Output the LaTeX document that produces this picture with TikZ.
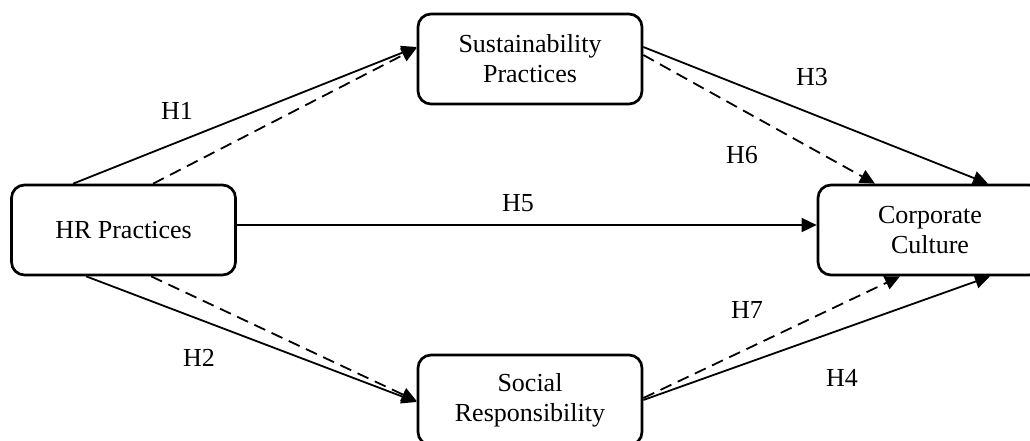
\documentclass[tikz,border=0pt]{standalone}
\usepackage{fontspec}
\setmainfont{Liberation Serif}
\usetikzlibrary{arrows.meta,calc}

\tikzset{
  construct/.style={draw, line width=2.7pt, rounded corners=13pt,
    minimum width=224pt, minimum height=90pt, align=center,
    inner sep=0pt, font=\fontsize{26}{30}\selectfont},
  hyplabel/.style={font=\fontsize{26}{30}\selectfont, inner sep=0pt},
  link/.style={line width=1.8pt, -{Triangle[length=15pt,width=14pt]}},
  mediated/.style={link, dash pattern=on 12pt off 7pt},
}

\begin{document}
\begin{tikzpicture}[x=1pt, y=-1pt]
  \useasboundingbox (0,0) rectangle (1030,441);

  % constructs
  \node[construct] (hr)   at (123.5,230) {HR Practices};
  \node[construct] (sust) at (530,59)    {Sustainability\\Practices};
  \node[construct] (soc)  at (530,400)   {Social\\Responsibility};
  \node[construct] (corp) at (930,230)   {Corporate\\Culture};

  % direct paths
  \draw[link] ($(hr.north west)+(63,0)$)  -- ($(sust.west)+(0,-12)$);
  \draw[link] ($(hr.south west)+(76,0)$)  -- ($(soc.west)+(0,2)$);
  \draw[link] ($(hr.east)+(0,-5)$)        -- ($(corp.west)+(0,-5)$);
  \draw[link] ($(sust.east)+(0,-12)$)     -- ($(corp.north)+(58,0)$);
  \draw[link] (soc.east)                  -- ($(corp.south)+(60,0)$);

  % mediated paths
  \draw[mediated] ($(hr.north west)+(143,0)$) -- ($(sust.west)+(0,-11)$);
  \draw[mediated] ($(hr.south west)+(141,0)$) -- ($(soc.west)+(0,1)$);
  \draw[mediated] ($(sust.east)+(0,-4)$)      -- ($(corp.north)+(-55,0)$);
  \draw[mediated] ($(soc.east)+(0,-2)$)       -- ($(corp.south)+(-30,0)$);

  % hypothesis labels
  \node[hyplabel] (h1) at (177,111) {H1};
  \node[hyplabel] (h2) at (199,358) {H2};
  \node[hyplabel] (h3) at (812,77)  {H3};
  \node[hyplabel] (h4) at (842,378) {H4};
  \node[hyplabel] (h5) at (518,203) {H5};
  \node[hyplabel] (h6) at (742,155) {H6};
  \node[hyplabel] (h7) at (747,310) {H7};
\end{tikzpicture}
\end{document}
